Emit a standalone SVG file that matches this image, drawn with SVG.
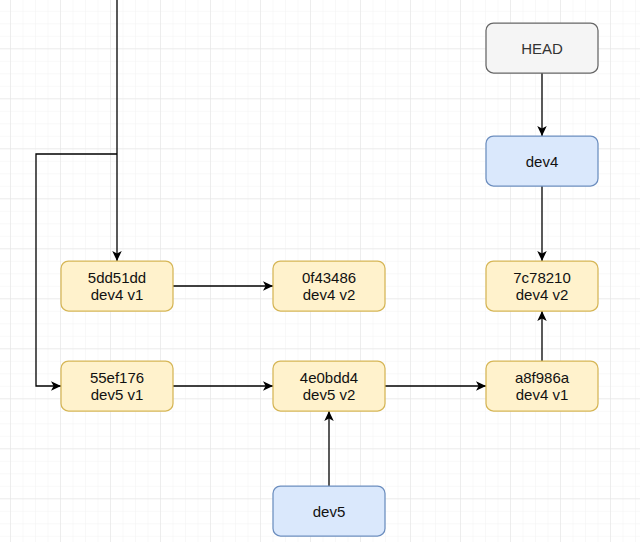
<svg xmlns="http://www.w3.org/2000/svg" width="640" height="542" viewBox="0 0 640 542">
<defs>
<pattern id="minor" patternUnits="userSpaceOnUse" x="10" y="-1.7" width="12.5" height="12.5">
<path d="M0,0 H12.5 M0,0 V12.5" stroke="#f2f2f2" stroke-width="1" fill="none"/>
</pattern>
<pattern id="major" patternUnits="userSpaceOnUse" x="10" y="-1.7" width="50" height="50">
<path d="M0,0 H50 M0,0 V50" stroke="#e2e2e2" stroke-width="1" fill="none"/>
</pattern>
<marker id="arr" markerUnits="userSpaceOnUse" markerWidth="11" markerHeight="10" refX="10" refY="4.75" orient="auto">
<path d="M0,0 L10,4.75 L0,9.5 L2.6,4.75 Z" fill="#000"/>
</marker>
<style>
.box{stroke-width:1.25}
.y{fill:#fff2cc;stroke:#d6b656}
.b{fill:#dae8fc;stroke:#6c8ebf}
.g{fill:#f5f5f5;stroke:#666666}
text{font-family:"Liberation Sans",Arial,sans-serif;font-size:15px;text-anchor:middle;fill:#111}
.e{fill:none;stroke:#000;stroke-width:1.3;marker-end:url(#arr)}
</style>
</defs>
<rect width="640" height="542" fill="#fff"/>
<rect width="640" height="542" fill="url(#minor)"/>
<rect width="640" height="542" fill="url(#major)"/>

<g id="connectors">
<path class="e" d="M117,0 V261"/>
<path class="e" d="M117,154 H36 V386 H61"/>
<path class="e" d="M173,286 H273"/>
<path class="e" d="M173,386 H273"/>
<path class="e" d="M385,386 H486"/>
<path class="e" d="M542,361 V311"/>
<path class="e" d="M542,73 V136"/>
<path class="e" d="M542,186 V261"/>
<path class="e" d="M329,486 V411"/>
</g>

<g id="HEAD"><rect class="box g" x="486" y="23" width="112" height="50" rx="7.5"/><text x="542" y="53.5" style="fill:#333">HEAD</text></g>
<g id="dev4"><rect class="box b" x="486" y="136" width="112" height="50" rx="7.5"/><text x="542" y="166.5">dev4</text></g>
<g id="c7c78210"><rect class="box y" x="486" y="261" width="112" height="50" rx="7.5"/><text x="542" y="283">7c78210</text><text x="542" y="300">dev4 v2</text></g>
<g id="c5dd51dd"><rect class="box y" x="61" y="261" width="112" height="50" rx="7.5"/><text x="117" y="283">5dd51dd</text><text x="117" y="300">dev4 v1</text></g>
<g id="c0f43486"><rect class="box y" x="273" y="261" width="112" height="50" rx="7.5"/><text x="329" y="283">0f43486</text><text x="329" y="300">dev4 v2</text></g>
<g id="c55ef176"><rect class="box y" x="61" y="361" width="112" height="50" rx="7.5"/><text x="117" y="383">55ef176</text><text x="117" y="400">dev5 v1</text></g>
<g id="c4e0bdd4"><rect class="box y" x="273" y="361" width="112" height="50" rx="7.5"/><text x="329" y="383">4e0bdd4</text><text x="329" y="400">dev5 v2</text></g>
<g id="ca8f986a"><rect class="box y" x="486" y="361" width="112" height="50" rx="7.5"/><text x="542" y="383">a8f986a</text><text x="542" y="400">dev4 v1</text></g>
<g id="dev5"><rect class="box b" x="273" y="486" width="112" height="50" rx="7.5"/><text x="329" y="516.5">dev5</text></g>
</svg>
